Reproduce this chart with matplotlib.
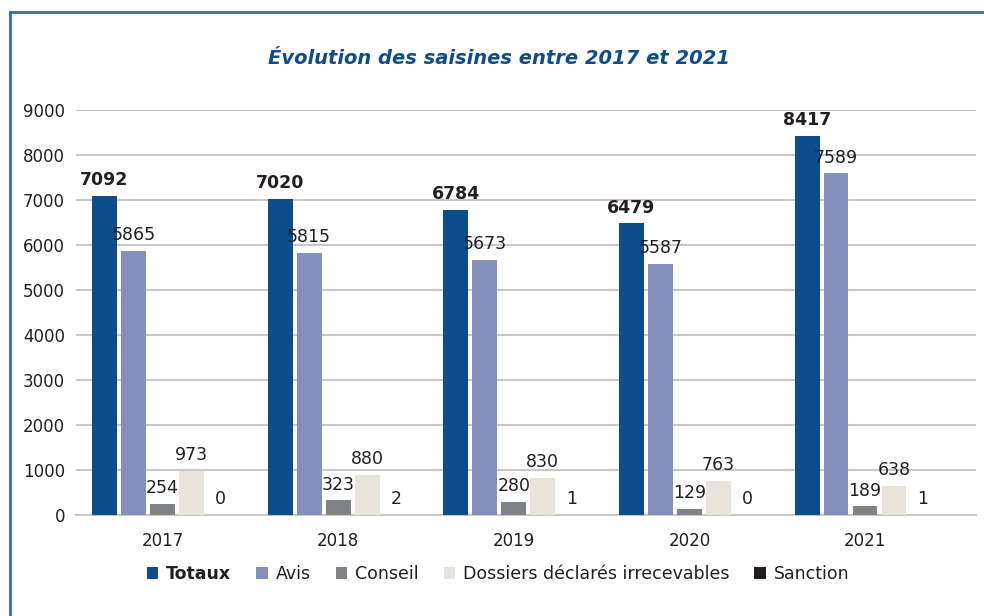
import matplotlib
matplotlib.use("Agg")
import matplotlib.pyplot as plt
from matplotlib.lines import Line2D
from matplotlib.patches import Patch
import numpy as np

plt.rcParams['font.family'] = ['DejaVu Sans']

years = ['2017', '2018', '2019', '2020', '2021']
series_names = ['Totaux', 'Avis', 'Conseil', 'Dossiers déclarés irrecevables', 'Sanction']
totaux = [7092, 7020, 6784, 6479, 8417]
avis = [5865, 5815, 5673, 5587, 7589]
conseil = [254, 323, 280, 129, 189]
dossiers = [973, 880, 830, 763, 638]
sanction = [0, 2, 1, 0, 1]
colors = ['#0e4c8c', '#8490bb', '#808285', '#e8e4dc', '#231f20']
yticks = [0, 1000, 2000, 3000, 4000, 5000, 6000, 7000, 8000, 9000]

data = [totaux, avis, conseil, dossiers, sanction]

fig = plt.figure(figsize=(9.84, 6.16), dpi=100)
ax = fig.add_axes([76/984, 1 - 515/616, 900/984, 405/616])

x = np.arange(len(years))
step = 0.165
width = 0.142
for i, (vals, col) in enumerate(zip(data, colors)):
    pos = x + (i - 2) * step
    bars = ax.bar(pos, vals, width=width, color=col, zorder=3)
    for b, v in zip(bars, vals):
        ax.annotate(str(v), (b.get_x() + b.get_width() / 2, v),
                    xytext=(0, 5), textcoords='offset points',
                    ha='center', va='bottom', fontsize=12.5,
                    fontweight='bold' if i == 0 else 'normal',
                    color='#231f20', zorder=4)

ax.set_xlim(-0.4926, 4.632)
ax.set_ylim(0, 9000)
ax.set_yticks(yticks)
ax.set_yticklabels([str(t) for t in yticks], fontsize=12, color='#231f20')
ax.set_xticks(x)
ax.set_xticklabels(years, fontsize=12, color='#231f20')
ax.tick_params(axis='both', length=0)
ax.tick_params(axis='y', pad=8)
ax.tick_params(axis='x', pad=12)
ax.grid(axis='y', color='#c8c8c8', linewidth=1.5, zorder=0)
for s in ['top', 'right', 'left']:
    ax.spines[s].set_visible(False)
ax.spines['bottom'].set_color('#c8c8c8')
ax.spines['bottom'].set_linewidth(1.5)

handles = [Patch(facecolor=c, edgecolor='none') for c in colors]
leg = fig.legend(handles, series_names, loc='center', ncol=5,
                 bbox_to_anchor=(498/984, 1 - 574/616), frameon=False,
                 fontsize=12.5, handlelength=0.65, handleheight=0.65,
                 handletextpad=0.45, columnspacing=1.45)
for t in leg.get_texts():
    t.set_color('#231f20')
leg.get_texts()[0].set_fontweight('bold')

fig.text(499/984, 1 - 58/616, 'Évolution des saisines entre 2017 et 2021',
         ha='center', va='center', fontsize=14, style='italic',
         fontweight='bold', color='#0e4c8c')

# frame
fig.add_artist(Line2D([10/984, 10/984], [0, 1 - 12/616], color='#3a6ea5', linewidth=2,
                      transform=fig.transFigure))
fig.add_artist(Line2D([10/984, 1], [1 - 12/616, 1 - 12/616], color='#3a6ea5', linewidth=2,
                      transform=fig.transFigure))

fig.savefig('out.png', dpi=100)
